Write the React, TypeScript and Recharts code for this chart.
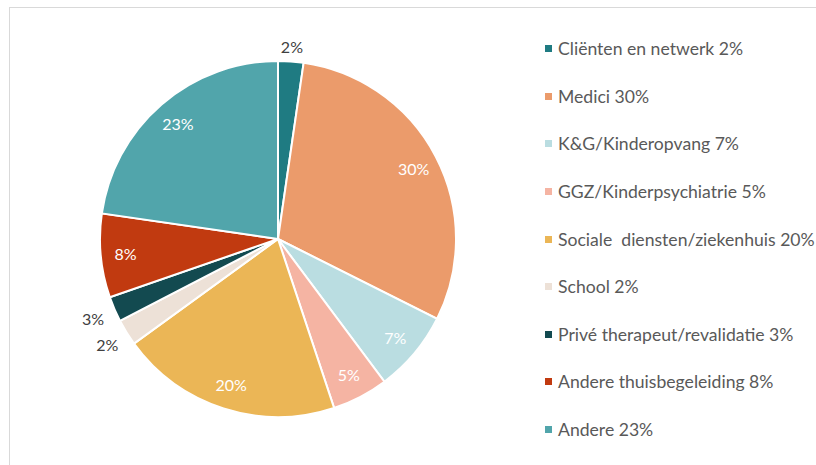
import React from "react";
import { PieChart, Pie, Cell } from "recharts";

const categories = [
  "Cliënten en netwerk",
  "Medici",
  "K&G/Kinderopvang",
  "GGZ/Kinderpsychiatrie",
  "Sociale  diensten/ziekenhuis",
  "School",
  "Privé therapeut/revalidatie",
  "Andere thuisbegeleiding",
  "Andere",
];
// percentages as printed in labels and legend
const shares = [2, 30, 7, 5, 20, 2, 3, 8, 23];
const sliceValues = [2.3, 30.1, 7.4, 5.1, 20.1, 2.4, 2.3, 7.6, 22.7];
const colors = [
  "#1f7b82",
  "#eb9b6b",
  "#badde1",
  "#f5b4a3",
  "#ebb656",
  "#ede1d7",
  "#134a50",
  "#c13a10",
  "#51a5ab",
];

const FONT = "Lato, 'Open Sans', sans-serif";
const TEXT = "#595959";
const RAD = Math.PI / 180;

const data = categories.map((name, i) => ({
  name,
  value: sliceValues[i],
  pct: shares[i],
  color: colors[i],
}));

function renderLabel(props: any) {
  const { cx, cy, midAngle, outerRadius, payload } = props;
  const pct = payload.pct;
  const outside = pct <= 3;
  // small slices get their label just outside the rim
  const r = outside
    ? outerRadius + 14 + 10 * Math.abs(Math.cos(midAngle * RAD))
    : outerRadius * 0.86;
  const x = cx + r * Math.cos(-midAngle * RAD);
  const y = cy + r * Math.sin(-midAngle * RAD);
  return (
    <text
      x={x}
      y={y}
      fill={outside ? "#404040" : "#ffffff"}
      textAnchor="middle"
      dominantBaseline="central"
      fontFamily={FONT}
      fontSize={16}
    >
      {pct}%
    </text>
  );
}

function LegendList() {
  return (
    <div
      style={{
        position: "absolute",
        left: 545,
        top: 25,
        fontFamily: FONT,
        fontSize: 17.6,
        color: TEXT,
      }}
    >
      {data.map((d) => (
        <div key={d.name} style={{ height: 47.6, display: "flex", alignItems: "center", whiteSpace: "pre" }}>
          <span style={{ width: 7, height: 7, background: d.color, marginRight: 6, display: "inline-block" }} />
          {d.name} {d.pct}%
        </div>
      ))}
    </div>
  );
}

export default function App() {
  return (
    <div style={{ position: "absolute", left: 0, top: 0, width: 816, height: 465, overflow: "hidden", background: "#fff" }}>
      <div
        style={{
          position: "absolute",
          left: 9,
          top: 7,
          width: 850,
          height: 500,
          border: "1px solid #d9d9d9",
        }}
      />
      <PieChart
        width={816}
        height={465}
        margin={{ top: 0, right: 0, bottom: 0, left: 0 }}
        style={{ position: "absolute", left: 0, top: 0 }}
      >
        <Pie
          data={data}
          dataKey="value"
          nameKey="name"
          cx={278}
          cy={239}
          outerRadius={178}
          startAngle={90}
          endAngle={-270}
          stroke="#ffffff"
          strokeWidth={2}
          label={renderLabel}
          labelLine={false}
          isAnimationActive={false}
        >
          {data.map((d) => (
            <Cell key={d.name} fill={d.color} />
          ))}
        </Pie>
      </PieChart>
      <LegendList />
    </div>
  );
}
